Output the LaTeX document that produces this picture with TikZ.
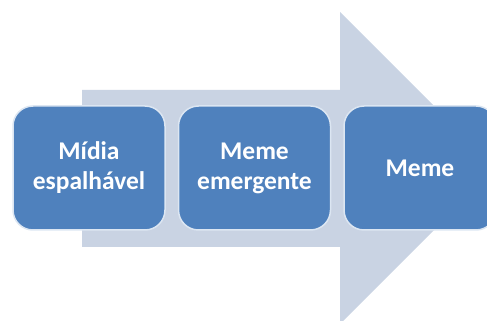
\documentclass[tikz,border=0pt]{standalone}
\usepackage{fontspec}
\setmainfont{Carlito}
\usepackage{tikz}
\usetikzlibrary{positioning}

\definecolor{stageblue}{HTML}{4F81BD}
\definecolor{stageedge}{HTML}{DCE6F2}
\definecolor{flowgray}{HTML}{C9D3E3}

\begin{document}
\begin{tikzpicture}[
      x=1pt, y=1pt,
      node distance=12pt,
      stage/.style={
        rectangle, fill=stageblue, draw=stageedge, line width=1.5pt,
        rounded corners=20pt,
        align=center,
        text=white, font=\fontsize{25.5}{30}\selectfont\bfseries,
        minimum width=152pt,
        minimum height=124pt
      }
    ]
    \useasboundingbox (0,0) rectangle (487,321);

    % Background arrow
    \fill[flowgray] (82,231) -- (340,231) -- (340,309) -- (496,153)
        -- (340,-3) -- (340,74) -- (82,74) -- cycle;

    % Stages
    \node[stage] (midia) at (89,153) {Mídia\\espalhável};
    \node[stage, right=of midia] (emergente) {Meme\\emergente};
    \node[stage, right=of emergente] (meme) {Meme};
\end{tikzpicture}
\end{document}
